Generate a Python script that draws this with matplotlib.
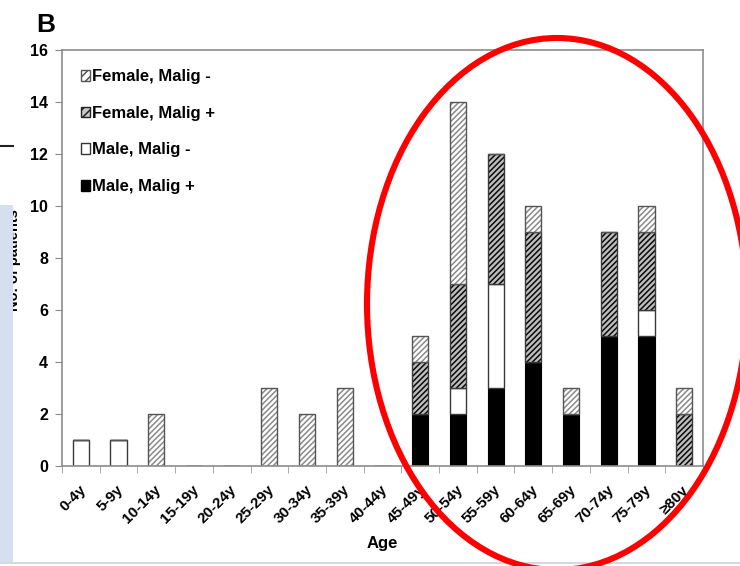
import numpy as np
import matplotlib
matplotlib.use("Agg")
import matplotlib.pyplot as plt
import matplotlib.transforms as mtransforms
from matplotlib.patches import Ellipse, Rectangle, Patch

plt.rcParams['font.family'] = ['Liberation Sans', 'DejaVu Sans']
plt.rcParams['font.weight'] = 'bold'
plt.rcParams['axes.labelweight'] = 'bold'
plt.rcParams['hatch.linewidth'] = 1.1

# Data
ages = ['0-4y', '5-9y', '10-14y', '15-19y', '20-24y', '25-29y', '30-34y',
        '35-39y', '40-44y', '45-49y', '50-54y', '55-59y', '60-64y',
        '65-69y', '70-74y', '75-79y', '≥80y']
male_malig_pos = [0, 0, 0, 0, 0, 0, 0, 0, 0, 2, 2, 3, 4, 2, 5, 5, 0]
male_malig_neg = [1, 1, 0, 0, 0, 0, 0, 0, 0, 0, 1, 4, 0, 0, 0, 1, 0]
female_malig_pos = [0, 0, 0, 0, 0, 0, 0, 0, 0, 2, 4, 5, 5, 0, 4, 3, 2]
female_malig_neg = [0, 0, 2, 0, 0, 3, 2, 3, 0, 1, 7, 0, 1, 1, 0, 1, 1]

fig = plt.figure(figsize=(7.4, 5.66), dpi=100)
ax = fig.add_axes([62 / 740, 100 / 566, 641 / 740, 416 / 566])

x = np.arange(len(ages))
w = 0.43
mp = np.array(male_malig_pos)
mn = np.array(male_malig_neg)
fp = np.array(female_malig_pos)
fn = np.array(female_malig_neg)

outline = '#3a3a3a'
ax.bar(x, mp, w, color='black', edgecolor='black', linewidth=0.8)
ax.bar(x, mn, w, bottom=mp, color='white', edgecolor=outline, linewidth=1.0)
# dark hatch
ax.bar(x, fp, w, bottom=mp + mn, color='#bdbdbd', edgecolor='#0a0a0a',
       hatch='//////', linewidth=0)
ax.bar(x, fp, w, bottom=mp + mn, fill=False, edgecolor=outline, linewidth=1.0)
# light hatch
ax.bar(x, fn, w, bottom=mp + mn + fp, color='white', edgecolor='#8a8a8a',
       hatch='//////', linewidth=0)
ax.bar(x, fn, w, bottom=mp + mn + fp, fill=False, edgecolor='#555555',
       linewidth=1.0)

ax.set_xlim(-0.5, len(ages) - 0.5)
ax.set_ylim(0, 16)
ax.set_yticks(range(0, 17, 2))
ax.tick_params(axis='y', direction='out', length=5, color='#888888',
               labelsize=11.5, pad=5)
ax.set_xticks(x)
ax.set_xticklabels(ages, rotation=45, ha='right', rotation_mode='anchor',
                   fontsize=11, fontweight='bold')
ax.tick_params(axis='x', which='major', length=0, pad=12)
shift = mtransforms.ScaledTranslation(-2 / 100, 0, fig.dpi_scale_trans)
for lab in ax.get_xticklabels():
    lab.set_transform(lab.get_transform() + shift)
ax.set_xticks(np.arange(-0.5, len(ages), 1), minor=True)
ax.tick_params(axis='x', which='minor', direction='out', length=5,
               color='#999999')
for s in ax.spines.values():
    s.set_color('#8c8c8c')
    s.set_linewidth(1.2)
ax.set_xlabel('Age', fontsize=12, fontweight='bold', va='top')
ax.xaxis.set_label_coords(0.5, (466 - 536) / 416)

handles = [
    Patch(facecolor='white', edgecolor='#555555', hatch='////', label='Female, Malig -'),
    Patch(facecolor='#c8c8c8', edgecolor='#222222', hatch='////', label='Female, Malig +'),
    Patch(facecolor='white', edgecolor='#333333', label='Male, Malig -'),
    Patch(facecolor='black', edgecolor='black', label='Male, Malig +'),
]
ax.legend(handles=handles, loc='upper left', frameon=False,
          prop={'size': 12, 'weight': 'bold'},
          handlelength=0.5, handleheight=0.6, handletextpad=0.15,
          labelspacing=1.3, borderaxespad=0, borderpad=0.4,
          bbox_to_anchor=(0.02, 0.97))

# panel letter
fig.text(36 / 740, 1 - 32 / 566, 'B', fontsize=19, fontweight='bold')

# overlay in pixel coordinates
ov = fig.add_axes([0, 0, 1, 1], zorder=10)
ov.set_xlim(0, 740)
ov.set_ylim(566, 0)
ov.axis('off')
ov.patch.set_alpha(0)
ov.text(14.5, 260, 'No. of patients', rotation=90, ha='center', va='center',
        fontsize=10.5, fontweight='bold', zorder=1)
ov.add_patch(Rectangle((0, 205), 13, 357, facecolor='#d5dff0',
                       edgecolor='none', zorder=2))
ov.plot([0, 13], [146, 146], color='#222222', lw=1.5)
ov.plot([0, 740], [562.5, 562.5], color='#c9d2de', lw=1.2)
ov.add_patch(Ellipse((557, 304), 380, 532, fill=False, edgecolor='#ff0000',
                     linewidth=4.4, zorder=5))

fig.savefig('out.png', dpi=100)
